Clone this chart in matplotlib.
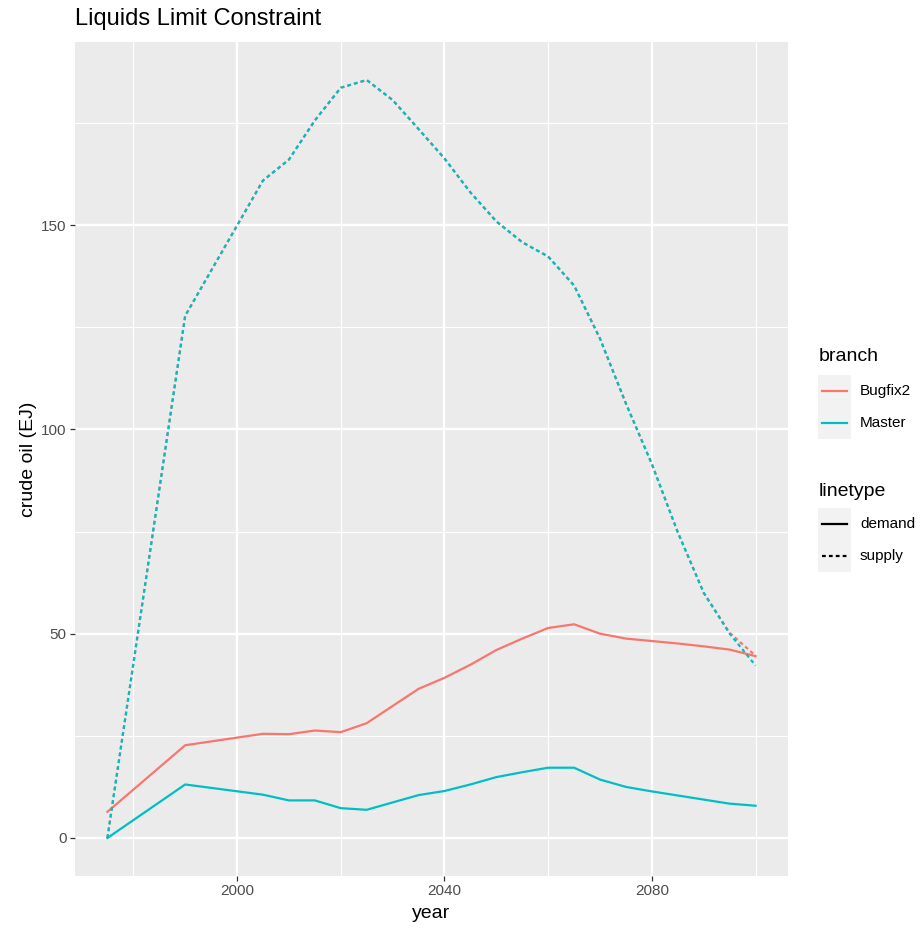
import matplotlib.pyplot as plt
from matplotlib.lines import Line2D
from matplotlib.patches import Rectangle
from matplotlib.ticker import FixedLocator

plt.rcParams["font.family"] = ["Liberation Sans", "DejaVu Sans"]

# ------------------------------------------------------------
# data
# ------------------------------------------------------------
years = [1975, 1990, 2005, 2010, 2015, 2020, 2025, 2030, 2035, 2040, 2045,
         2050, 2055, 2060, 2065, 2070, 2075, 2080, 2085, 2090, 2095, 2100]

bugfix2_demand = [6.4, 22.7, 25.5, 25.4, 26.3, 25.9, 28.1, 32.3, 36.5, 39.2, 42.4,
                  46.0, 48.8, 51.4, 52.3, 50.0, 48.8, 48.2, 47.6, 46.9, 46.1, 44.5]
bugfix2_supply = [0.0, 127.8, 160.9, 166.0, 175.6, 183.6, 185.5, 180.6, 173.5, 166.3, 158.0,
                  150.9, 145.8, 142.3, 135.2, 122.2, 106.3, 91.5, 74.8, 60.0, 50.2, 44.6]
master_demand = [0.0, 13.1, 10.6, 9.2, 9.2, 7.3, 6.9, 8.7, 10.5, 11.5, 13.1,
                 14.9, 16.1, 17.2, 17.2, 14.3, 12.5, 11.4, 10.4, 9.4, 8.4, 7.9]
master_supply = [0.0, 127.8, 160.9, 166.0, 175.6, 183.6, 185.5, 180.6, 173.5, 166.3, 158.0,
                 150.9, 145.8, 142.3, 135.2, 122.2, 106.3, 91.5, 74.8, 60.0, 50.0, 42.2]

branches = ["Bugfix2", "Master"]
linetypes = ["demand", "supply"]
colors = {"Bugfix2": "#F8766D", "Master": "#00BFC4"}

series = [
    ("Bugfix2", "demand", bugfix2_demand),
    ("Bugfix2", "supply", bugfix2_supply),
    ("Master", "demand", master_demand),
    ("Master", "supply", master_supply),
]

W, H = 922, 930
LW = 1.6
DASH = (1.7, 1.4)


def fx(x):
    return x / W


def fy(y):
    return 1 - y / H


fig = plt.figure(figsize=(W / 100, H / 100), dpi=100)
ax = fig.add_axes([fx(75), fy(876), fx(788) - fx(75), fy(42) - fy(876)])

ax.set_facecolor("#EBEBEB")
for s in ax.spines.values():
    s.set_visible(False)

for branch, lt, vals in series:
    line, = ax.plot(years, vals, color=colors[branch], lw=LW)
    if lt == "supply":
        line.set_dashes(DASH)

ax.set_xlim(1968.75, 2106.25)
ax.set_ylim(-9.3, 194.8)
ax.xaxis.set_major_locator(FixedLocator([2000, 2040, 2080]))
ax.xaxis.set_minor_locator(FixedLocator([1980, 2020, 2060, 2100]))
ax.yaxis.set_major_locator(FixedLocator([0, 50, 100, 150]))
ax.yaxis.set_minor_locator(FixedLocator([25, 75, 125, 175]))

ax.set_axisbelow(True)
ax.grid(which="major", color="white", lw=1.7)
ax.grid(which="minor", color="white", lw=0.85)
ax.tick_params(which="major", direction="out", length=3.5, width=0.9,
               color="#333333", labelcolor="#4D4D4D", labelsize=11, pad=2.5)
ax.tick_params(which="minor", length=0)

ax.set_xlabel("year", fontsize=14, labelpad=5)
ax.set_ylabel("crude oil (EJ)", fontsize=14, labelpad=3)

fig.text(fx(75), fy(19), "Liquids Limit Constraint", fontsize=17,
         ha="left", va="center")

# ------------------------------------------------------------
# legends (ggplot style, drawn by hand)
# ------------------------------------------------------------
def draw_legend(title, title_y, labels, key_top, styles):
    fig.text(fx(819), fy(title_y), title, fontsize=14, ha="left", va="center")
    key_h = 32
    for i, (lab, (col, dashed)) in enumerate(zip(labels, styles)):
        top = key_top + i * key_h
        fig.add_artist(Rectangle((fx(818), fy(top + key_h)), fx(851) - fx(818),
                                 key_h / H, transform=fig.transFigure,
                                 facecolor="#F2F2F2", edgecolor="none"))
        yc = top + key_h / 2
        ln = Line2D([fx(822), fx(847)], [fy(yc), fy(yc)], transform=fig.transFigure,
                    color=col, lw=LW)
        if dashed:
            ln.set_dashes(DASH)
        fig.add_artist(ln)
        fig.text(fx(860), fy(yc), lab, fontsize=11, ha="left", va="center")


draw_legend("branch", 356, branches, 375,
            [(colors[b], False) for b in branches])
draw_legend("linetype", 491, linetypes, 508,
            [("black", False), ("black", True)])

fig.savefig("out.png", dpi=100)
